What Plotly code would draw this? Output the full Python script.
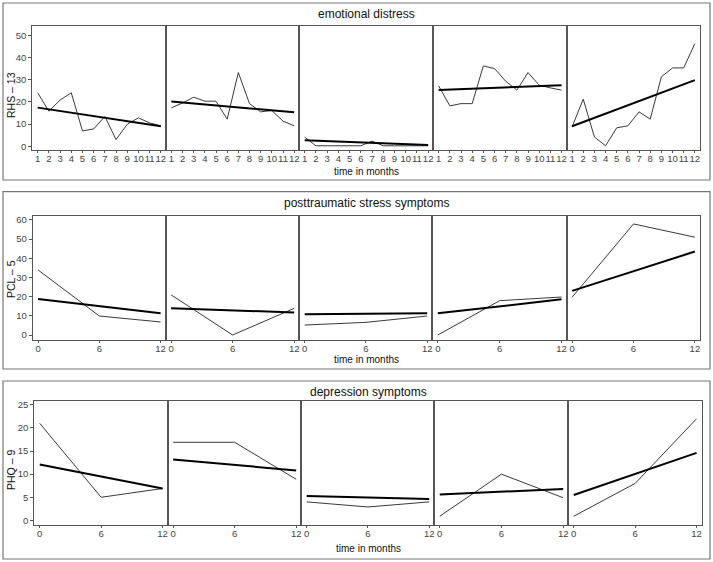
import plotly.graph_objects as go

W, H = 713, 562

# ---------------- data ----------------
months = list(range(1, 13))
waves = [0, 6, 12]

rhs_titles = "emotional distress"
pcl_titles = "posttraumatic stress symptoms"
phq_titles = "depression symptoms"

# RHS-13 monthly scores for five participants
rhs_p1 = [24.1, 15.8, 20.8, 24.1, 6.9, 7.8, 13.4, 3.0, 9.9, 12.8, 10.5, 9.2]
rhs_p2 = [17.3, 19.5, 22.1, 20.3, 20.3, 12.2, 33.2, 19.2, 15.5, 16.1, 11.3, 9.2]
rhs_p3 = [4.1, 0.2, 0.2, 0.2, 0.2, 0.2, 2.3, 0.2, 0.2, 0.2, 0.2, 0.2]
rhs_p4 = [27.2, 18.2, 19.2, 19.2, 36.2, 35.0, 29.3, 25.3, 33.2, 27.5, 26.3, 25.3]
rhs_p5 = [8.7, 21.2, 4.2, 0.2, 8.3, 9.2, 15.5, 12.2, 31.3, 35.3, 35.3, 46.3]
rhs_trend_start = [17.4, 20.2, 2.7, 25.3, 9.0]
rhs_trend_end = [9.0, 15.3, 0.5, 27.5, 29.8]

# PCL-5 at 0, 6, 12 months
pcl_p1 = [33.9, 9.9, 6.8]
pcl_p2 = [20.9, 0.0, 13.9]
pcl_p3 = [5.2, 6.6, 9.9]
pcl_p4 = [0.0, 17.9, 19.8]
pcl_p5 = [19.7, 57.9, 51.0]
pcl_trend_start = [18.8, 13.9, 10.8, 11.3, 23.0]
pcl_trend_end = [11.3, 11.8, 11.3, 18.6, 43.5]

# PHQ-9 at 0, 6, 12 months
phq_p1 = [21.0, 5.0, 6.9]
phq_p2 = [16.9, 16.9, 8.9]
phq_p3 = [4.0, 2.9, 4.0]
phq_p4 = [0.9, 10.0, 4.9]
phq_p5 = [0.9, 8.0, 22.0]
phq_trend_start = [12.1, 13.2, 5.3, 5.6, 5.5]
phq_trend_end = [6.9, 10.8, 4.6, 6.8, 14.6]

rhs_ticks = [0, 10, 20, 30, 40, 50]
pcl_ticks = [0, 10, 20, 30, 40, 50, 60]
phq_ticks = [0, 5, 10, 15, 20, 25]

rows = [
    dict(title=rhs_titles, ylab="RHS \u2013 13", x=months, xt=months,
         series=[rhs_p1, rhs_p2, rhs_p3, rhs_p4, rhs_p5],
         ts=rhs_trend_start, te=rhs_trend_end, yt=rhs_ticks),
    dict(title=pcl_titles, ylab="PCL \u2013 5", x=waves, xt=waves,
         series=[pcl_p1, pcl_p2, pcl_p3, pcl_p4, pcl_p5],
         ts=pcl_trend_start, te=pcl_trend_end, yt=pcl_ticks),
    dict(title=phq_titles, ylab="PHQ \u2013 9", x=waves, xt=waves,
         series=[phq_p1, phq_p2, phq_p3, phq_p4, phq_p5],
         ts=phq_trend_start, te=phq_trend_end, yt=phq_ticks),
]

# ---------------- layout (pixels) ----------------
panel_x = [
    [32.3, 166, 299.3, 433.3, 566.7, 700],
    [32.7, 165.7, 299.3, 432.3, 566.7, 700],
    [34.3, 167.7, 301.3, 434.3, 568.3, 701.7],
]
panel_y = [[26, 150], [215.7, 340], [400.7, 525]]
yranges = [[-1.7, 54.2], [-2.6, 62.2], [-1.0, 25.9]]
xranges = [[0.52, 12.46], [-0.53, 12.5], [-0.53, 12.5]]
boxes = [[3, 3, 710, 180], [3, 191.7, 710, 369], [3, 381, 710, 559]]
title_y = [14, 203, 391.7]
xlab_y = [171, 359.5, 548.5]
ylab_y = [95, 279, 470]

def px(x):
    return x / W

def py(y):
    return 1 - y / H

FONT = "Liberation Sans, Arial, sans-serif"
TICKFONT = dict(size=9.5, color="#444444", family=FONT)
fig = go.Figure()
layout = dict(
    width=W, height=H, margin=dict(l=0, r=0, t=0, b=0, autoexpand=False),
    paper_bgcolor="white", plot_bgcolor="white", showlegend=False,
    font=dict(family=FONT, color="#333333"),
)
shapes = []
annotations = []

k = 0
for r, row in enumerate(rows):
    for c in range(5):
        k += 1
        xa = "xaxis" if k == 1 else f"xaxis{k}"
        ya = "yaxis" if k == 1 else f"yaxis{k}"
        xr = "x" if k == 1 else f"x{k}"
        yr = "y" if k == 1 else f"y{k}"
        fig.add_trace(go.Scatter(
            x=row["x"], y=row["series"][c], mode="lines",
            line=dict(color="#3a3a3a", width=1), xaxis=xr, yaxis=yr,
            hoverinfo="skip"))
        fig.add_trace(go.Scatter(
            x=[row["x"][0], row["x"][-1]], y=[row["ts"][c], row["te"][c]],
            mode="lines", line=dict(color="black", width=2),
            xaxis=xr, yaxis=yr, hoverinfo="skip"))
        layout[xa] = dict(
            domain=[px(panel_x[r][c]), px(panel_x[r][c + 1])],
            range=xranges[r], anchor=yr, showgrid=False, zeroline=False,
            showline=True, mirror=True, linecolor="#555555", linewidth=1,
            tickmode="array", tickvals=row["xt"],
            ticktext=[str(v) for v in row["xt"]], tickangle=0,
            ticks="outside", ticklen=2, tickcolor="#555555",
            ticklabelstandoff=-2,
            tickfont=TICKFONT, fixedrange=True)
        layout[ya] = dict(
            domain=[py(panel_y[r][1]), py(panel_y[r][0])],
            range=yranges[r], anchor=xr, showgrid=False, zeroline=False,
            showline=True, mirror=True, linecolor="#555555", linewidth=1,
            tickmode="array", tickvals=row["yt"],
            ticktext=[str(v) for v in row["yt"]],
            ticks="outside" if c == 0 else "", ticklen=3,
            tickcolor="#555555", showticklabels=(c == 0),
            tickfont=TICKFONT, fixedrange=True)

    b = boxes[r]
    shapes.append(dict(type="rect", xref="paper", yref="paper",
                       x0=px(b[0]), x1=px(b[2]), y0=py(b[3]), y1=py(b[1]),
                       line=dict(color="#777777", width=1.2), layer="below"))
    cx = (panel_x[r][0] + panel_x[r][-1]) / 2
    annotations.append(dict(text=row["title"], x=px(cx), y=py(title_y[r]),
                            xref="paper", yref="paper", showarrow=False,
                            xanchor="center", yanchor="middle",
                            font=dict(size=12, color="#111111", family=FONT)))
    annotations.append(dict(text="time in months", x=px(cx), y=py(xlab_y[r]),
                            xref="paper", yref="paper", showarrow=False,
                            xanchor="center", yanchor="middle",
                            font=dict(size=10, color="#111111", family=FONT)))
    annotations.append(dict(text=row["ylab"], x=px(11), y=py(ylab_y[r]),
                            xref="paper", yref="paper", showarrow=False,
                            textangle=-90, xanchor="center", yanchor="middle",
                            font=dict(size=10.5, color="#111111", family=FONT)))

layout["shapes"] = shapes
layout["annotations"] = annotations
fig.update_layout(**layout)
fig.write_html(
    "out.html",
    config={"displayModeBar": False},
    post_script="document.body.style.margin='0px';document.body.style.padding='0px';",
)
